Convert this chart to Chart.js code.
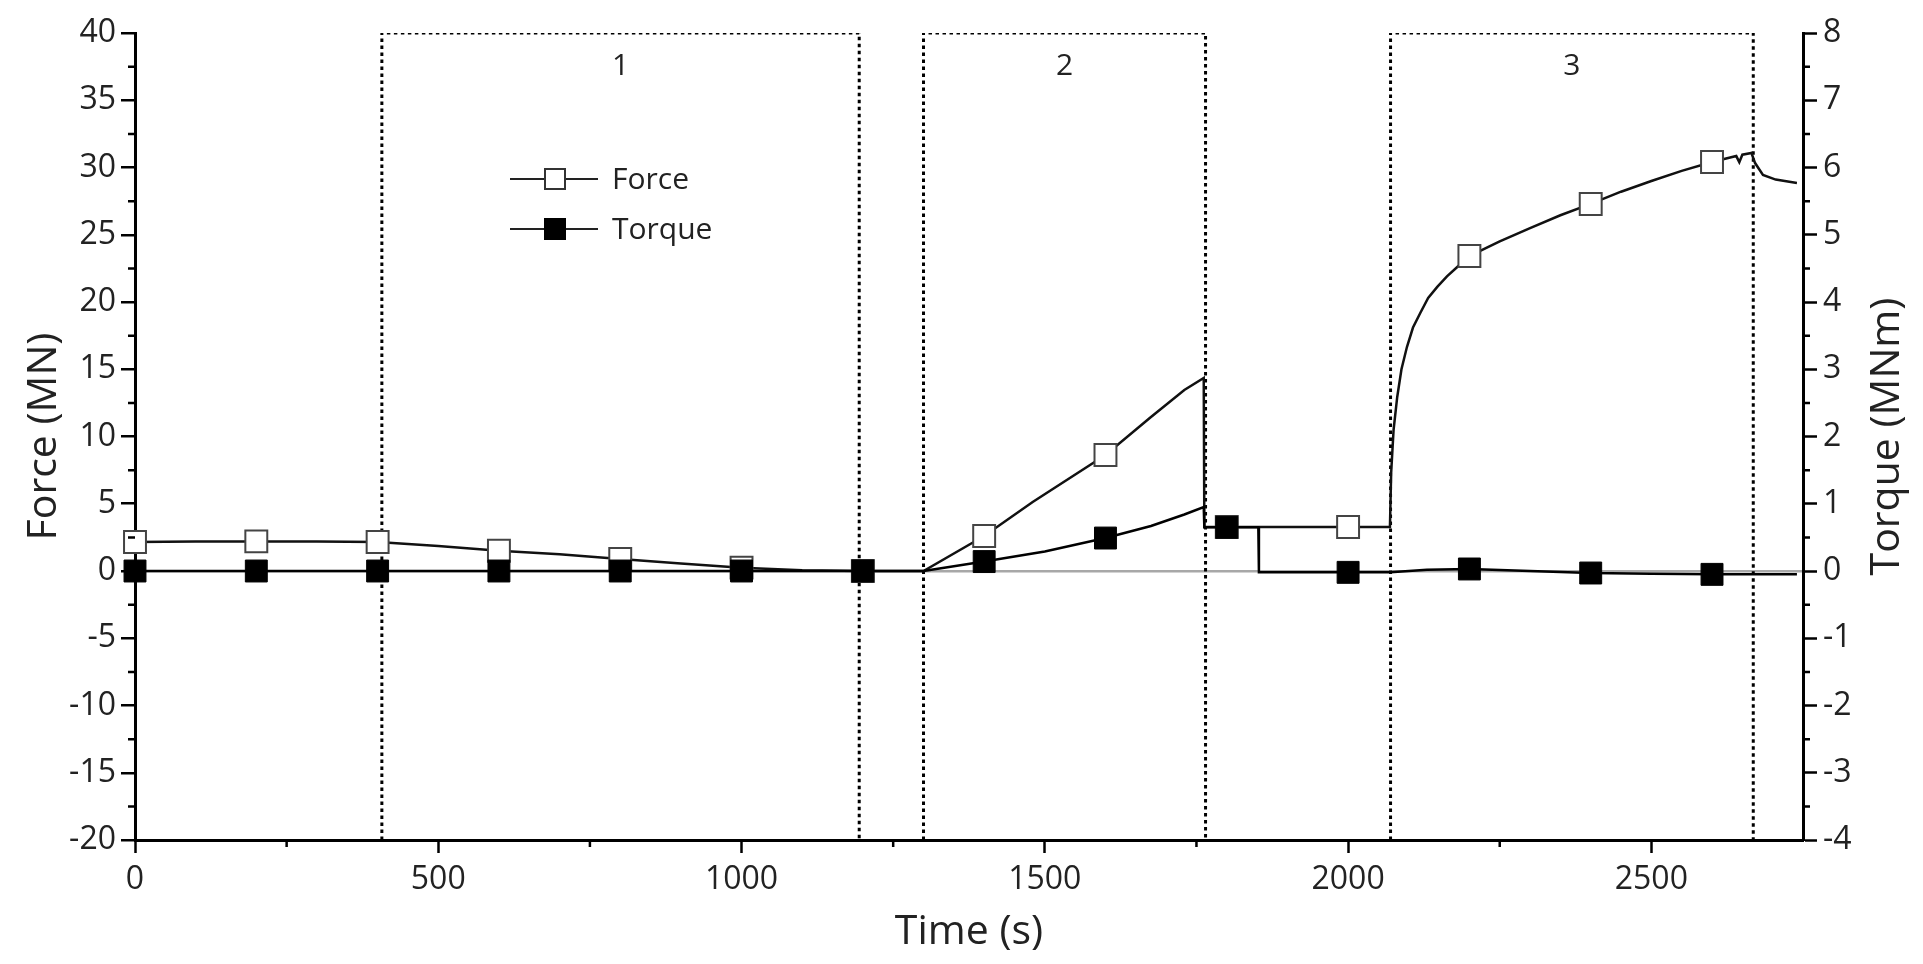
<!DOCTYPE html>
<html>
<head>
<meta charset="utf-8">
<title>Force and torque vs time</title>
<script src="https://cdn.jsdelivr.net/npm/chart.js@4.4.1/dist/chart.umd.min.js"></script>
<style>
  html, body { margin: 0; padding: 0; background: #fff; overflow: hidden; }
  #wrap { width: 1923px; height: 964px; }
</style>
</head>
<body>
<div id="wrap"><canvas id="chart" width="1923" height="964"></canvas></div>
<script>
// Force (MN) against time (s)
const forceTime = [0, 100, 200, 300, 400, 500, 600, 700, 800, 900, 1000, 1100, 1200, 1300,
  1400, 1480, 1600, 1675, 1730, 1762, 1763, 1800, 1900, 2000, 2069,
  2071, 2075, 2081, 2088, 2097, 2107, 2119, 2132, 2147, 2163, 2180, 2200,
  2250, 2300, 2350, 2400, 2450, 2500, 2550, 2600,
  2640, 2645, 2650, 2665, 2671, 2684, 2705, 2740];
const forceValue = [2.15, 2.2, 2.2, 2.2, 2.15, 1.85, 1.5, 1.25, 0.9, 0.55, 0.25, 0.05, 0, 0,
  2.6, 5.13, 8.62, 11.45, 13.46, 14.35, 3.27, 3.27, 3.27, 3.27, 3.27,
  7.29, 10.5, 12.94, 15.0, 16.65, 18.1, 19.18, 20.3, 21.12, 21.9, 22.6, 23.42,
  24.5, 25.5, 26.45, 27.29, 28.2, 29.0, 29.75, 30.41,
  30.85, 30.4, 30.95, 31.08, 30.33, 29.44, 29.1, 28.85];

// Torque (MNm) against time (s)
const torqueTime = [0, 200, 400, 600, 800, 1000, 1200, 1300, 1400, 1500, 1600, 1675, 1730, 1762,
  1763, 1800, 1852, 1853, 1935, 2000, 2070, 2130, 2200, 2300, 2400, 2500, 2600, 2740];
const torqueValue = [0, 0, 0, 0, 0, 0, 0, 0, 0.14, 0.29, 0.49, 0.67, 0.84, 0.95,
  0.65, 0.65, 0.65, -0.02, -0.02, -0.02, -0.02, 0.02, 0.03, 0.0, -0.03, -0.04, -0.05, -0.05];

// a marker is drawn every markerStep seconds
const markerStep = 200;

// the three loading stages (dotted boxes)
const stageNames = ['1', '2', '3'];
const stageStart = [407, 1300, 2070];
const stageEnd = [1194, 1765, 2668];

// axis ranges and labelled ticks
const timeRange = [0, 2750];
const timeTicks = [0, 500, 1000, 1500, 2000, 2500];
const forceRange = [-20, 40];
const forceTicks = [-20, -15, -10, -5, 0, 5, 10, 15, 20, 25, 30, 35, 40];
const torqueRange = [-4, 8];
const torqueTicks = [-4, -3, -2, -1, 0, 1, 2, 3, 4, 5, 6, 7, 8];

const FONT = "'Open Sans', 'DejaVu Sans', sans-serif";
const INK = '#222';

function toPoints (xs, ys) {
    return xs.map(function (t, i) { return { x: t, y: ys[i] }; });
}

function markerRadius (ctx) {
    return ctx.raw && ctx.raw.x % markerStep === 0 ? 15.5 : 0;
}

function fixedTicks (values) {
    return function (scale) {
        scale.ticks = values.map(function (v) { return { value: v }; });
    };
}

// one dotted box per stage: up the left edge, across the top, down the right edge
const stageSets = stageNames.map(function (name, i) {
    return {
        label: 'Stage ' + name,
        data: [
            { x: stageStart[i], y: forceRange[0] },
            { x: stageStart[i], y: forceRange[1] },
            { x: stageEnd[i], y: forceRange[1] },
            { x: stageEnd[i], y: forceRange[0] }
        ],
        yAxisID: 'y',
        borderColor: '#000',
        borderWidth: 3,
        borderDash: [3.5, 3.5],
        pointRadius: 0,
        tension: 0,
        order: 5
    };
});

// short minor ticks halfway between the labelled ones
const minorTicks = {
    id: 'minorTicks',
    afterDraw (chart) {
        const { ctx, scales } = chart;
        const len = 7;
        ctx.save();
        ctx.strokeStyle = '#000';
        ctx.lineWidth = 2.5;
        ctx.beginPath();
        const x = scales.x;
        const xStep = timeTicks[1] - timeTicks[0];
        for (let v = timeTicks[0] + xStep / 2; v < timeRange[1]; v += xStep) {
            const px = x.getPixelForValue(v);
            ctx.moveTo(px, x.top); ctx.lineTo(px, x.top + len);
        }
        const y = scales.y;
        for (let i = 0; i < forceTicks.length - 1; i++) {
            const py = y.getPixelForValue((forceTicks[i] + forceTicks[i + 1]) / 2);
            ctx.moveTo(y.right, py); ctx.lineTo(y.right - len, py);
        }
        const y1 = scales.y1;
        for (let i = 0; i < torqueTicks.length - 1; i++) {
            const py = y1.getPixelForValue((torqueTicks[i] + torqueTicks[i + 1]) / 2);
            ctx.moveTo(y1.left, py); ctx.lineTo(y1.left + len, py);
        }
        ctx.stroke();
        ctx.restore();
    }
};

// stage numbers, the inset legend and the right axis title (reads bottom to top)
const annotations = {
    id: 'annotations',
    afterDraw (chart) {
        const { ctx, chartArea, scales } = chart;
        ctx.save();
        ctx.fillStyle = INK;
        ctx.textAlign = 'center';
        ctx.textBaseline = 'middle';
        ctx.font = '30px ' + FONT;
        stageNames.forEach(function (name, i) {
            const cx = scales.x.getPixelForValue((stageStart[i] + stageEnd[i]) / 2);
            ctx.fillText(name, cx, chartArea.top + 33);
        });

        // legend
        const lx = chartArea.left + 375;
        const ly = chartArea.top + 146;
        const rows = [
            { label: 'Force', fill: '#fff', stroke: '#333' },
            { label: 'Torque', fill: '#000', stroke: '#000' }
        ];
        rows.forEach(function (r, i) {
            const yy = ly + i * 50;
            ctx.strokeStyle = '#222';
            ctx.lineWidth = 2;
            ctx.beginPath();
            ctx.moveTo(lx, yy); ctx.lineTo(lx + 88, yy);
            ctx.stroke();
            ctx.fillStyle = r.fill;
            ctx.fillRect(lx + 35, yy - 10, 20, 20);
            ctx.strokeStyle = r.stroke;
            ctx.strokeRect(lx + 35, yy - 10, 20, 20);
            ctx.fillStyle = INK;
            ctx.textAlign = 'left';
            ctx.font = '30px ' + FONT;
            ctx.fillText(r.label, lx + 102, yy + 1);
        });

        // right axis title
        ctx.translate(chartArea.right + 84, (chartArea.top + chartArea.bottom) / 2);
        ctx.rotate(-Math.PI / 2);
        ctx.textAlign = 'center';
        ctx.font = '41px ' + FONT;
        ctx.fillText('Torque (MNm)', 0, 0);
        ctx.restore();
    }
};

const tickFont = { family: FONT, size: 32 };
const titleFont = { family: FONT, size: 41 };

new Chart(document.getElementById('chart'), {
    type: 'line',
    data: {
        datasets: [
            {
                label: 'Torque',
                data: toPoints(torqueTime, torqueValue),
                yAxisID: 'y1',
                borderColor: '#000',
                borderWidth: 2.5,
                tension: 0,
                pointStyle: 'rect',
                pointRadius: markerRadius,
                pointBackgroundColor: '#000',
                pointBorderColor: '#000',
                pointBorderWidth: 1,
                clip: false,
                order: 1
            },
            {
                label: 'Force',
                data: toPoints(forceTime, forceValue),
                yAxisID: 'y',
                borderColor: '#111',
                borderWidth: 2.5,
                tension: 0,
                pointStyle: 'rect',
                pointRadius: markerRadius,
                pointBackgroundColor: '#fff',
                pointBorderColor: '#444',
                pointBorderWidth: 2,
                clip: false,
                order: 2
            }
        ].concat(stageSets)
    },
    options: {
        responsive: false,
        animation: false,
        layout: { padding: { top: 33, left: 0, right: 0, bottom: 0 } },
        plugins: {
            legend: { display: false },
            tooltip: { enabled: false }
        },
        scales: {
            x: {
                type: 'linear',
                min: timeRange[0],
                max: timeRange[1],
                afterBuildTicks: fixedTicks(timeTicks),
                afterFit: function (s) { s.height = 124; },
                border: { color: '#000', width: 3 },
                grid: { drawOnChartArea: false, tickLength: 13, tickWidth: 2.5, tickColor: '#000' },
                ticks: {
                    autoSkip: false,
                    maxRotation: 0,
                    padding: 8,
                    color: INK,
                    font: tickFont,
                    callback: function (v) { return String(v); }
                },
                title: { display: true, text: 'Time (s)', color: INK, font: titleFont, padding: { top: 0, bottom: 7 } }
            },
            y: {
                position: 'left',
                min: forceRange[0],
                max: forceRange[1],
                afterBuildTicks: fixedTicks(forceTicks),
                afterFit: function (s) { s.width = 135; },
                border: { color: '#000', width: 3 },
                grid: {
                    color: function (c) { return c.tick && c.tick.value === 0 ? '#a8a8a8' : 'rgba(0,0,0,0)'; },
                    lineWidth: 2.5,
                    tickLength: 14,
                    tickWidth: 2.5,
                    tickColor: '#000'
                },
                ticks: {
                    autoSkip: false,
                    padding: 5,
                    color: INK,
                    font: tickFont,
                    callback: function (v) { return String(v); }
                },
                title: { display: true, text: 'Force (MN)', color: INK, font: titleFont, padding: { top: 20, bottom: 0 } }
            },
            y1: {
                position: 'right',
                min: torqueRange[0],
                max: torqueRange[1],
                afterBuildTicks: fixedTicks(torqueTicks),
                afterFit: function (s) { s.width = 120; },
                border: { color: '#000', width: 3 },
                grid: { drawOnChartArea: false, tickLength: 14, tickWidth: 2.5, tickColor: '#000' },
                ticks: {
                    autoSkip: false,
                    padding: 6,
                    color: INK,
                    font: tickFont,
                    callback: function (v) { return String(v); }
                }
            }
        }
    },
    plugins: [minorTicks, annotations]
});
</script>
</body>
</html>
